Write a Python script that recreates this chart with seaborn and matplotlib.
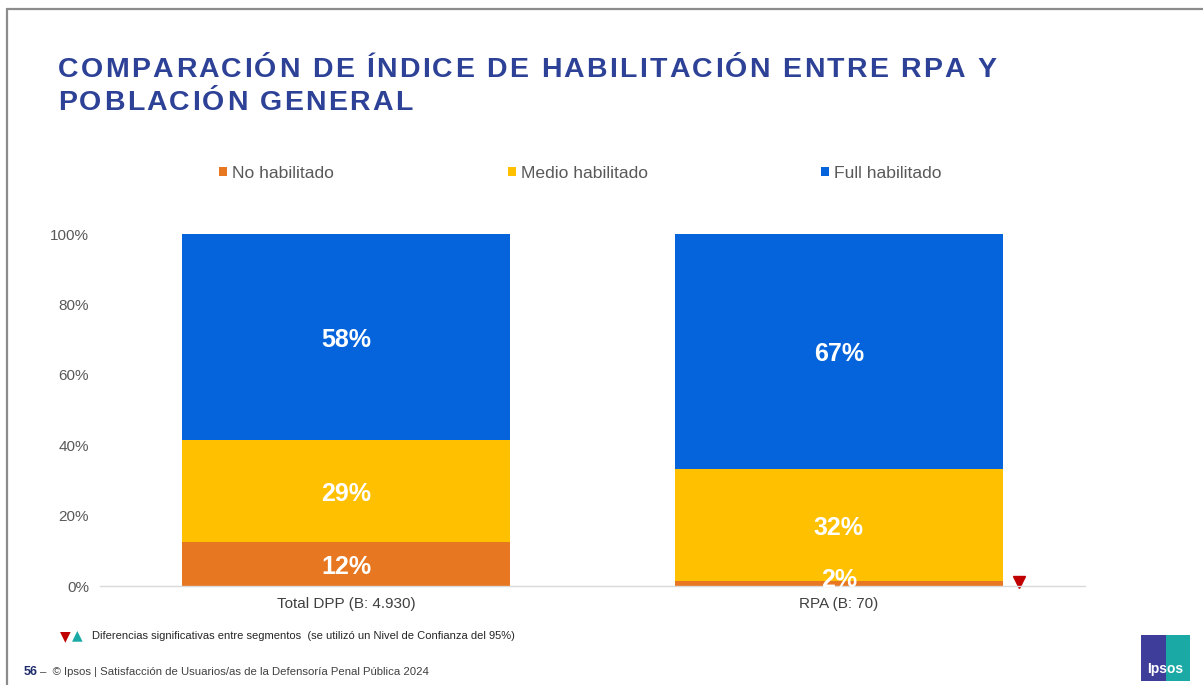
import matplotlib
matplotlib.use("Agg")
import matplotlib.pyplot as plt
from matplotlib.lines import Line2D
from matplotlib.patches import Rectangle, Patch
import seaborn as sns
import pandas as pd

# ---- data ----
categories = ["Total DPP (B: 4.930)", "RPA (B: 70)"]
series_names = ["No habilitado", "Medio habilitado", "Full habilitado"]
no_habilitado = [12.4, 1.5]
medio_habilitado = [29.2, 31.8]
full_habilitado = [58.4, 66.7]
y_ticks = [0, 20, 40, 60, 80, 100]
significance = [None, "down"]  # marker next to each bar

colors = {"No habilitado": "#E87722", "Medio habilitado": "#FFC000", "Full habilitado": "#0563DB"}
TITLE_BLUE = "#2D4197"
TEXT_GREY = "#595959"

sns.set_theme(style="white")
plt.rcParams["font.family"] = ["Liberation Sans", "DejaVu Sans"]

W, H = 1203, 685
fig = plt.figure(figsize=(W / 100, H / 100), dpi=100)
fig.patch.set_facecolor("white")
renderer = fig.canvas.get_renderer()

def px(x0, y0, w, h):
    return [x0 / W, 1 - (y0 + h) / H, w / W, h / H]

def tracked_text(x_px, y_px, s, tracking_px, **kw):
    """Write a string character by character with extra letter spacing."""
    x = x_px
    for ch in s:
        t = fig.text(x / W, 1 - y_px / H, ch, ha="left", va="center", **kw)
        w = t.get_window_extent(renderer=renderer).width
        if ch == " ":
            w = t.get_fontsize() * 0.278 * 100 / 72
        x += w + tracking_px

ax = fig.add_axes(px(100, 234, 985, 352))

df = pd.DataFrame({
    "cat": categories,
    "No habilitado": no_habilitado,
    "Medio habilitado": medio_habilitado,
    "Full habilitado": full_habilitado,
})
df["c1"] = df["No habilitado"]
df["c2"] = df["c1"] + df["Medio habilitado"]
df["c3"] = df["c2"] + df["Full habilitado"]

# stacked bars drawn back to front as cumulative totals
for col, name in [("c3", "Full habilitado"), ("c2", "Medio habilitado"), ("c1", "No habilitado")]:
    sns.barplot(data=df, x="cat", y=col, color=colors[name], width=0.667,
                saturation=1, ax=ax, errorbar=None, edgecolor="none", linewidth=0)

# value labels centred in each segment
for i, row in df.iterrows():
    segs = [(0, row["No habilitado"]), (row["c1"], row["Medio habilitado"]), (row["c2"], row["Full habilitado"])]
    for bottom, val in segs:
        yc = bottom + val / 2 - 0.8
        if val < 4:
            yc = bottom + 1.6
        ax.text(i, yc, f"{val:.0f}%", ha="center", va="center", color="white",
                fontsize=18, fontweight="bold")

# significance markers
for i, sig in enumerate(significance):
    if sig == "down":
        ax.plot(i + 0.366, 1.1, marker="v", color="#C00000", markersize=8,
                linestyle="none", clip_on=False)

ax.set_xlim(-0.5, 1.5)
ax.set_ylim(0, 100)
ax.set_yticks(y_ticks)
ax.set_yticklabels([f"{t}%" for t in y_ticks], fontsize=11, color=TEXT_GREY)
ax.set_xticks(range(len(categories)))
ax.set_xticklabels(categories, fontsize=11, color="#404040")
ax.tick_params(axis="y", length=0, pad=8)
ax.tick_params(axis="x", length=0, pad=8)
ax.set_xlabel("")
ax.set_ylabel("")
for s in ["top", "right", "left"]:
    ax.spines[s].set_visible(False)
ax.spines["bottom"].set_color("#D9D9D9")
ax.spines["bottom"].set_linewidth(1)

# legend
handles = [Patch(facecolor=colors[n], edgecolor="none") for n in series_names]
leg = fig.legend(handles, series_names, loc="center", bbox_to_anchor=(580.5 / W, 1 - 173 / H),
                 ncol=3, frameon=False, fontsize=12.6, handlelength=0.45, handleheight=0.45,
                 handletextpad=0.3, columnspacing=9.9)
for t in leg.get_texts():
    t.set_color(TEXT_GREY)

# title with letter spacing
title_kw = dict(fontsize=20.5, fontweight="bold", color=TITLE_BLUE)
tracked_text(58, 70, "COMPARACIÓN DE ÍNDICE DE HABILITACIÓN ENTRE RPA Y", 2.3, **title_kw)
tracked_text(58, 103, "POBLACIÓN GENERAL", 2.3, **title_kw)

# footnote
fig.text(60 / W, 1 - 636 / H, "▼", color="#C00000", fontsize=10, va="center", ha="left",
         family="DejaVu Sans")
fig.text(71.5 / W, 1 - 635 / H, "▲", color="#1BA9A6", fontsize=10, va="center", ha="left",
         family="DejaVu Sans")
fig.text(92 / W, 1 - 636 / H,
         "Diferencias significativas entre segmentos  (se utilizó un Nivel de Confianza del 95%)",
         fontsize=8, color="#262626", va="center", ha="left")

# footer
fig.text(24 / W, 1 - 672 / H, "56", fontsize=9, fontweight="bold", color="#1F2D6B",
         va="center", ha="left")
fig.text(40 / W, 1 - 672 / H, "–  © Ipsos | Satisfacción de Usuarios/as de la Defensoría Penal Pública 2024",
         fontsize=8.2, color="#404040", va="center", ha="left")

# slide frame
fig.add_artist(Line2D([7 / W, 1], [1 - 9 / H, 1 - 9 / H], color="#8C8C8C", lw=1.6))
fig.add_artist(Line2D([7 / W, 7 / W], [0, 1 - 9 / H], color="#8C8C8C", lw=1.6))

# logo
lax = fig.add_axes(px(1141, 635, 49, 46))
lax.set_xlim(0, 1)
lax.set_ylim(0, 1)
lax.axis("off")
lax.add_patch(Rectangle((0, 0), 0.5, 1, color="#3F3D9A", lw=0))
lax.add_patch(Rectangle((0.5, 0), 0.5, 1, color="#1BA9A6", lw=0))
lax.text(0.5, 0.25, "Ipsos", color="white", fontsize=10, fontweight="bold",
         ha="center", va="center")

fig.savefig("out.png", dpi=100, facecolor="white")
